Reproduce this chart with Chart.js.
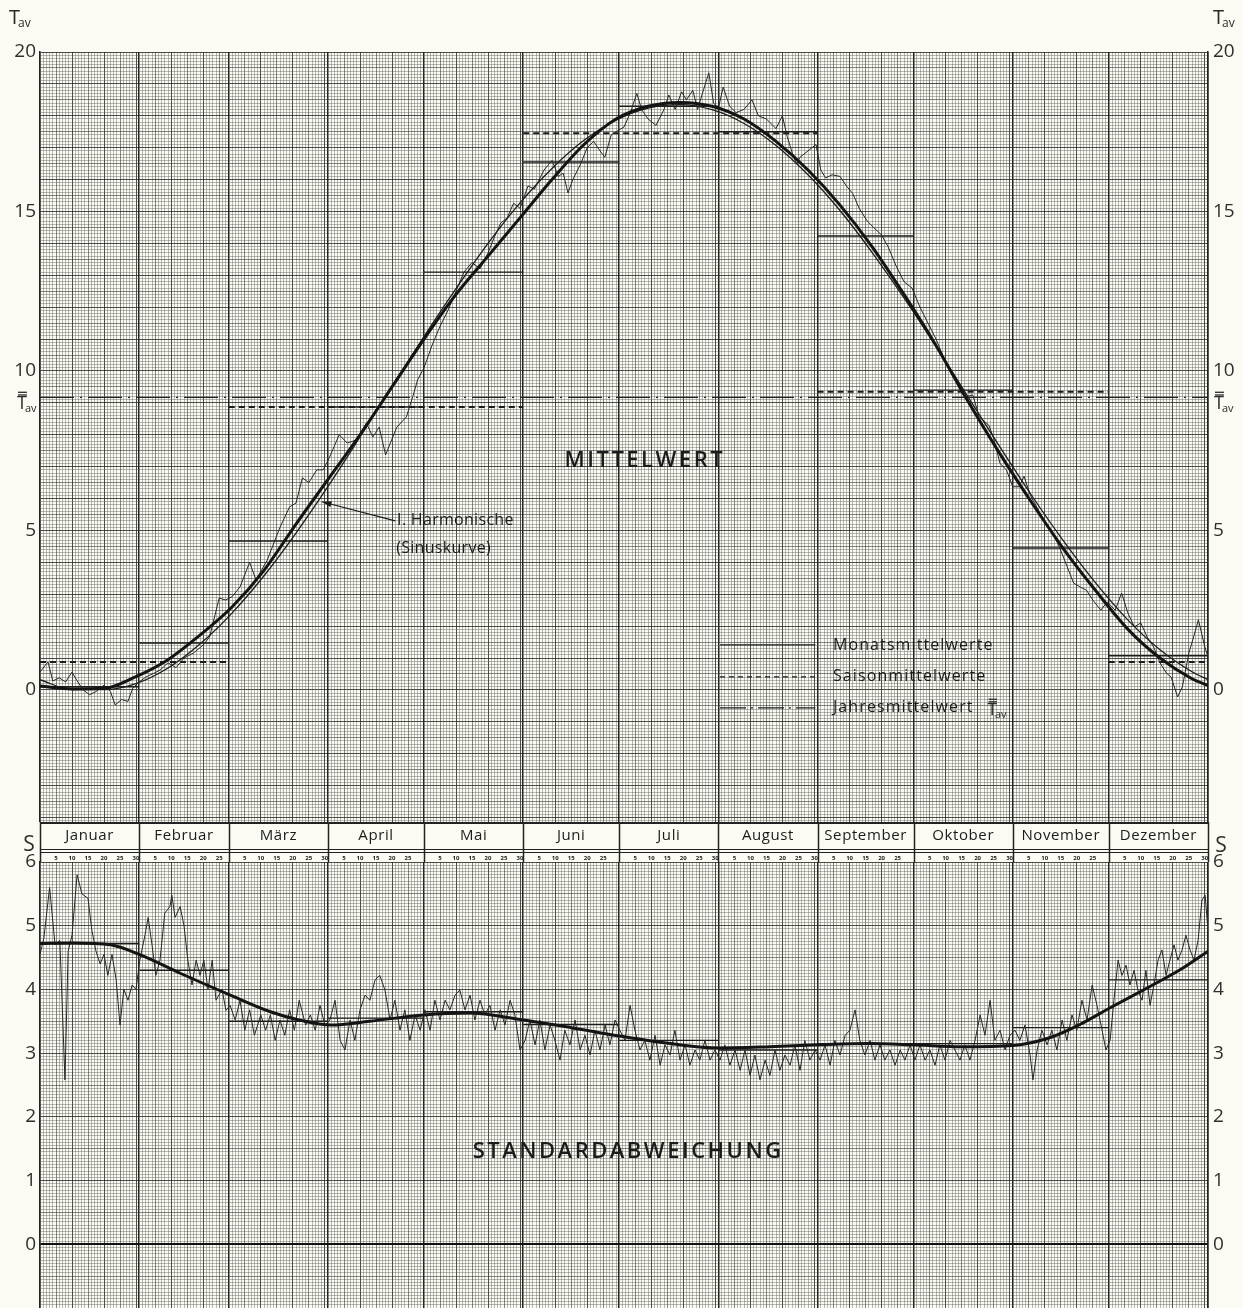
<!DOCTYPE html>
<html>
<head>
<meta charset="utf-8">
<script src="https://cdn.jsdelivr.net/npm/chart.js@4.4.0/dist/chart.umd.min.js"></script>
<style>
  html, body { margin: 0; padding: 0; background: #fbfbf3; }
  #wrap { position: relative; width: 1243px; height: 1308px; overflow: hidden; }
  canvas { position: absolute; left: 0; }
  #tempChart { top: 0; }
  #sdChart { top: 822px; }
</style>
</head>
<body>
<div id="wrap">
  <canvas id="tempChart" width="1243" height="822"></canvas>
  <canvas id="sdChart" width="1243" height="486"></canvas>
</div>
<script>
// Calendar (day of year)
const monthStarts = [0, 31, 59, 90, 120, 151, 181, 212, 243, 273, 304, 334, 365];
const monthNames = ['Januar', 'Februar', 'März', 'April', 'Mai', 'Juni', 'Juli', 'August', 'September', 'Oktober', 'November', 'Dezember'];

// Tick labels
const tempTicks = [0, 5, 10, 15, 20];
const sdTicks = [0, 1, 2, 3, 4, 5, 6];

// Mittelwert - daily values
const meanDays = [
  0, 2.5, 4, 6, 8, 10, 11.5, 13.5, 15.5, 17.5, 20, 22, 23.5, 25.5, 27.5, 29,
  31, 33, 35.5, 37.5, 40, 42.5, 45, 48, 51, 53, 56, 58,
  60, 62.5, 65.5, 67.5, 71, 75, 78, 80, 82, 84, 86.5, 88.5,
  90.5, 93.5, 96, 99, 102, 104, 106, 108, 111.5, 114.5, 116.5, 118,
  120, 122.5, 125, 127.5, 130, 132.5, 135, 137.5, 140, 142, 144, 146, 148, 150,
  152.5, 154.5, 157.5, 160, 162, 163.5, 165, 166.5, 169, 171, 173, 175, 176.5, 178.5, 180,
  182.5, 184.5, 186.5, 188, 190, 192.5, 195, 196.5, 198.5, 200.5, 202, 204, 205.5, 207, 209, 210.5,
  212, 213.5, 215.5, 217.5, 220, 222.5, 224.5, 227, 228, 230, 232, 233.5, 235.5, 236.5, 237.5, 240, 242.5,
  244, 245.5, 247.5, 250, 252, 254, 256, 258.5, 260.5, 263, 265, 267.5, 270, 272.5,
  275, 277.5, 280, 282.5, 285, 287.5, 289.5, 291.5, 293.5, 296.5, 298, 300, 302,
  304, 306, 307.5, 309.5, 312, 314, 316.5, 318.5, 321, 323, 325, 327, 329, 331.5, 333.5,
  336, 338, 340, 342, 344, 346, 348, 350, 352, 353.5, 355.5, 357, 359, 360.5, 362, 364, 365
];
const meanVals = [
  0.56, 0.88, 0.28, 0.38, 0.25, 0.56, 0.3, 0.0, -0.15, -0.05, 0.15, -0.05, -0.47, -0.3, -0.36, 0.06,
  0.25, 0.4, 0.52, 0.62, 0.85, 0.7, 1.0, 1.16, 1.41, 1.66, 2.88, 2.82,
  2.92, 3.23, 4.0, 3.45, 4.07, 5.1, 5.74, 5.86, 6.65, 6.5, 6.9, 6.9,
  7.3, 8.0, 7.74, 7.84, 8.37, 7.93, 8.24, 7.37, 8.24, 8.56, 9.2, 9.72,
  10.1, 10.8, 11.4, 11.9, 12.5, 13.1, 13.4, 13.2, 13.7, 14.2, 14.64, 14.8, 15.26, 15.1,
  15.8, 15.7, 16.3, 16.6, 16.1, 16.2, 15.58, 16.0, 16.5, 17.0, 17.2, 16.9, 16.7, 17.4, 17.5,
  17.65, 18.1, 18.7, 18.2, 17.9, 17.7, 18.2, 18.65, 18.2, 18.75, 18.5, 18.8, 18.2, 18.7, 19.35, 18.4,
  18.24, 18.9, 18.3, 18.1, 18.2, 18.5, 18.0, 17.9, 17.8, 17.6, 18.0, 17.35, 16.7, 16.5, 16.7, 16.9, 17.1,
  16.3, 16.05, 16.15, 16.1, 15.8, 15.56, 15.1, 14.7, 14.5, 14.26, 13.9, 13.3, 12.8, 12.6,
  12.0, 11.5, 11.0, 10.4, 9.9, 9.45, 9.2, 9.25, 8.56, 8.3, 7.9, 7.1, 6.9,
  6.37, 6.37, 6.7, 6.1, 5.64, 5.27, 4.9, 4.5, 3.86, 3.35, 3.23, 3.13, 2.82, 2.5, 2.76,
  2.5, 3.04, 2.4, 1.98, 2.1, 1.66, 1.35, 0.85, 0.53, 0.4, -0.22, 0.1, 1.15, 1.66, 2.2, 1.35, 1.03
];

// Mittelwert - smoothed curve (bold) and 1. Harmonische (thin)
const curveDays = [0, 10, 20, 30, 40, 50, 60, 70, 80, 90, 100, 110, 120, 130, 140, 150, 160, 170, 180,
  190, 200, 210, 220, 230, 240, 250, 260, 270, 280, 290, 300, 310, 320, 330, 340, 350, 360, 365];
const smoothVals = [0.12, 0.03, 0.05, 0.42, 0.95, 1.72, 2.6, 3.75, 5.2, 6.6, 8.0, 9.5, 11.0, 12.4, 13.6, 14.8, 16.0, 17.1, 17.9,
  18.3, 18.42, 18.3, 17.9, 17.2, 16.3, 15.2, 13.9, 12.4, 10.8, 9.05, 7.4, 5.86, 4.4, 3.1, 1.9, 1.0, 0.35, 0.14];
const sineVals = [0.32, 0.01, 0.01, 0.2, 0.69, 1.44, 2.41, 3.58, 4.92, 6.38, 7.93, 9.51, 11.08, 12.58, 14.0, 15.27, 16.35, 17.23, 17.86,
  18.24, 18.35, 18.19, 17.76, 17.07, 16.15, 15.03, 13.72, 12.29, 10.77, 9.19, 7.61, 6.08, 4.65, 3.34, 2.19, 1.26, 0.57, 0.32];

const monthMeans = [0.1, 1.47, 4.67, 8.87, 13.1, 16.55, 18.3, 17.5, 14.23, 9.4, 4.45, 1.07];
const seasonMeans = [0.88, 8.87, 17.45, 9.35]; // DJF, MAM, JJA, SON
const annualMean = 9.17;

// Standardabweichung - daily values
const sdDays = [
  0, 1.2, 3, 4.7, 6.2, 7.8, 8.8, 10, 11.6, 13.1, 15, 16.2, 17.5, 18.8, 20, 21.2, 22.5, 23.8, 25, 26.2, 27.5, 28.8, 30,
  31.2, 32.8, 33.8, 35, 36.2, 37.5, 39, 40.6, 41.2, 42.2, 43.8, 45, 46.2, 47.5, 48.8, 50, 51.2, 52.5, 53.8, 55, 56.9, 58.1, 59.4,
  61, 62.5, 64, 65.5, 67, 69, 70.5, 72, 73.5, 75, 76.5, 78, 79.5, 81, 83, 84.5, 86, 87.5, 89,
  90.6, 92.2, 93.8, 95.3, 96.9, 98.4, 100, 101.6, 103.1, 104.7, 106.2, 107.8, 109.4, 110.9, 112.5, 114, 115.6, 117.2, 118.8,
  120.3, 121.9, 123.4, 125, 126.6, 128.1, 129.7, 131.2, 132.8, 134.4, 135.9, 137.5, 139, 140.6, 142.2, 143.8, 145.3, 146.9, 148.4, 150,
  151.6, 153.1, 154.7, 156.2, 157.8, 159.4, 160.9, 162.5, 164, 165.6, 167.2, 168.8, 170.3, 171.9, 173.4, 175, 176.6, 178.1, 179.7,
  181.2, 182.8, 184.4, 185.9, 187.5, 189, 190.6, 192.2, 193.8, 195.3, 196.9, 198.4, 200, 201.6, 203.1, 204.7, 206.2, 207.8, 209.4, 210.9,
  212.5, 214, 215.6, 217.2, 218.8, 220.3, 221.9, 223.4, 225, 226.6, 228.1, 229.7, 231.2, 232.8, 234.4, 235.9, 237.5, 239, 240.6, 242.2,
  243.8, 245.3, 246.9, 248.4, 250, 251.6, 253.1, 254.7, 256.2, 257.8, 259.4, 260.9, 262.5, 264, 265.6, 267.2, 268.8, 270.3, 271.9,
  273.4, 275, 276.6, 278.1, 279.7, 281.2, 282.8, 284.4, 285.9, 287.5, 289, 290.6, 292.2, 293.8, 295.3, 296.9, 298.4, 300, 301.6, 303.1,
  304.7, 306.2, 307.8, 309.4, 310.3, 311.6, 313.1, 314.7, 316.2, 317.8, 319.4, 320.9, 322.5, 324, 325.6, 327.2, 328.8, 330.3, 331.9, 333.1,
  334.4, 335.6, 336.9, 338.1, 339.4, 340.6, 341.9, 343.1, 344.4, 345.6, 346.9, 348.1, 349.4, 350.6, 351.9, 353.1, 354.4, 355.6,
  356.9, 358.1, 359.4, 360.6, 361.9, 363.1, 364.1, 365
];
const sdVals = [
  4.55, 4.8, 5.6, 4.7, 4.77, 2.58, 4.6, 4.85, 5.8, 5.5, 5.43, 4.93, 4.6, 4.4, 4.55, 4.22, 4.55, 4.15, 3.44, 4.0, 3.83, 4.07, 4.0,
  4.46, 4.85, 5.13, 4.7, 4.22, 4.46, 5.2, 5.3, 5.48, 5.13, 5.3, 5.0, 4.46, 4.07, 4.46, 4.22, 4.46, 4.0, 4.46, 3.83, 4.0, 3.67, 3.75,
  3.52, 3.83, 3.36, 3.68, 3.28, 3.6, 3.36, 3.6, 3.2, 3.52, 3.28, 3.68, 3.36, 3.83, 3.44, 3.6, 3.36, 3.75, 3.44,
  3.52, 3.83, 3.2, 3.05, 3.52, 3.2, 3.68, 3.91, 3.83, 4.15, 4.22, 3.99, 3.52, 3.83, 3.36, 3.68, 3.2, 3.6, 3.36,
  3.68, 3.36, 3.83, 3.52, 3.83, 3.68, 3.91, 3.99, 3.68, 3.91, 3.52, 3.83, 3.6, 3.75, 3.36, 3.68, 3.44, 3.83, 3.6, 3.05,
  3.2, 3.52, 3.13, 3.52, 3.05, 3.44, 3.2, 2.89, 3.36, 3.13, 3.52, 3.05, 3.28, 2.97, 3.36, 3.05, 3.44, 3.13, 3.52,
  3.36, 3.2, 3.75, 3.36, 3.05, 3.2, 2.89, 3.28, 2.81, 3.13, 2.97, 3.36, 2.89, 3.13, 2.81, 3.05, 2.89, 3.2, 2.89, 3.05,
  2.89, 3.13, 2.81, 3.05, 2.73, 3.05, 2.65, 2.97, 2.58, 2.89, 2.65, 3.05, 2.73, 2.97, 2.81, 3.13, 2.73, 3.2, 2.89, 3.05,
  2.89, 3.13, 2.81, 3.2, 2.97, 3.28, 3.36, 3.68, 3.2, 2.97, 3.2, 2.89, 3.13, 2.89, 3.05, 2.81, 3.05, 2.89, 3.13,
  2.89, 3.13, 2.89, 3.05, 2.81, 3.13, 2.89, 3.2, 3.05, 2.89, 3.13, 2.89, 3.2, 3.6, 3.28, 3.83, 3.2, 3.36, 3.05, 3.28,
  3.36, 3.2, 3.44, 2.97, 2.58, 3.05, 3.36, 3.13, 3.36, 3.05, 3.52, 3.2, 3.6, 3.36, 3.83, 3.52, 4.07, 3.75, 3.36, 3.05,
  3.2, 3.83, 4.46, 4.22, 4.38, 4.07, 4.3, 3.99, 3.83, 4.3, 3.75, 4.07, 4.46, 4.62, 4.22, 4.46, 4.7, 4.46,
  4.62, 4.85, 4.62, 4.46, 4.77, 5.4, 5.48, 4.93
];

// Standardabweichung - smoothed curve
const sdCurveDays = [0, 10, 22, 31, 44, 60, 72, 81, 91, 103, 120, 134, 151, 166, 181, 197, 212, 228, 243, 259, 273, 288, 304, 316, 325, 334, 347, 356, 365];
const sdCurveVals = [4.72, 4.73, 4.7, 4.55, 4.25, 3.9, 3.65, 3.52, 3.44, 3.5, 3.6, 3.63, 3.52, 3.4, 3.27, 3.15, 3.08, 3.1, 3.13, 3.15, 3.13, 3.1, 3.12, 3.25, 3.45, 3.7, 4.05, 4.3, 4.6];
const sdMonthMeans = [4.72, 4.3, 3.5, 3.55, 3.65, 3.45, 3.2, 3.05, 3.15, 3.15, 3.4, 4.15];

// Helpers
const INK = '#222';
const FONT = '"Open Sans", "DejaVu Sans", sans-serif';

function pts(days, vals) {
  return days.map((d, i) => ({ x: d, y: vals[i] }));
}

// horizontal pieces separated by gaps
function segs(spans) {
  const out = [];
  spans.forEach(([a, b, v]) => {
    out.push({ x: a, y: v }, { x: b, y: v }, { x: b, y: null });
  });
  return out;
}

const monthSpans = monthMeans.map((v, i) => [monthStarts[i], monthStarts[i + 1], v]);
const sdMonthSpans = sdMonthMeans.map((v, i) => [monthStarts[i], monthStarts[i + 1], v]);
const seasonSpans = [
  [0, 59, seasonMeans[0]], [334, 365, seasonMeans[0]],
  [59, 151, seasonMeans[1]], [151, 243, seasonMeans[2]], [243, 334, seasonMeans[3]]
];

// Graph paper grid
const FINE = 'rgba(70,70,70,0.36)';
const MID = 'rgba(50,50,50,0.58)';
const HEAVY = 'rgba(35,35,35,0.8)';

function xGrid(v) {
  if (monthStarts.includes(v)) return [INK, 1.5];
  let m = 0;
  while (monthStarts[m + 1] <= v) m++;
  const d = v - monthStarts[m];
  if (d % 10 === 0) return [HEAVY, 1];
  if (d % 5 === 0) return [MID, 1];
  return [FINE, 1];
}
function yGrid(v, per) {
  const i = Math.round(v * per);
  if (i % per === 0) return HEAVY;
  if (i % (per / 2) === 0) return MID;
  return FINE;
}

function xScale() {
  return {
    type: 'linear', min: 0, max: 365,
    afterBuildTicks: s => { s.ticks = Array.from({ length: 366 }, (_, i) => ({ value: i })); },
    afterFit: s => { s.height = 0; s.paddingLeft = 0; s.paddingRight = 0; },
    ticks: { display: false },
    grid: {
      drawTicks: false,
      color: c => xGrid(c.tick ? c.tick.value : 0)[0],
      lineWidth: c => xGrid(c.tick ? c.tick.value : 0)[1]
    },
    border: { display: false }
  };
}

function yScale(min, max, per, labels, zeroBold) {
  return {
    type: 'linear', min: min, max: max, position: 'left',
    afterBuildTicks: s => {
      const t = [];
      for (let i = Math.ceil(min * per); i <= Math.floor(max * per + 0.001); i++) t.push({ value: i / per });
      s.ticks = t;
    },
    afterFit: s => { s.width = 40; s.paddingTop = 0; s.paddingBottom = 0; },
    ticks: {
      autoSkip: false, padding: 4, color: '#2e2e2e',
      font: { family: FONT, size: 19 },
      callback: v => labels.includes(v) ? String(v) : ''
    },
    grid: {
      drawTicks: false,
      color: c => {
        const v = c.tick ? c.tick.value : 0;
        if (zeroBold && v === 0) return '#111';
        return yGrid(v, per);
      },
      lineWidth: c => (zeroBold && c.tick && c.tick.value === 0) ? 2 : 1
    },
    border: { display: true, color: INK, width: 1.5 }
  };
}

function yRight(min, max, labels) {
  return {
    type: 'linear', min: min, max: max, position: 'right',
    afterBuildTicks: s => { s.ticks = labels.map(v => ({ value: v })); },
    afterFit: s => { s.width = 35; s.paddingTop = 0; s.paddingBottom = 0; },
    ticks: { autoSkip: false, padding: 5, color: '#2e2e2e', font: { family: FONT, size: 19 } },
    grid: { drawOnChartArea: false, drawTicks: false },
    border: { display: true, color: INK, width: 1.5 }
  };
}

function drawTav(ctx, x, y, bars, size) {
  size = size || 20;
  ctx.fillStyle = '#2a2a2a';
  ctx.strokeStyle = '#2a2a2a';
  ctx.textAlign = 'left';
  ctx.textBaseline = 'middle';
  ctx.font = size + 'px ' + FONT;
  ctx.fillText('T', x, y);
  const w = ctx.measureText('T').width;
  ctx.font = Math.round(size * 0.62) + 'px ' + FONT;
  ctx.fillText('av', x + w - 2, y + size * 0.3);
  if (bars) {
    ctx.lineWidth = 1.3;
    [-0.62, -0.47].forEach(k => {
      ctx.beginPath(); ctx.moveTo(x + 1, y + size * k); ctx.lineTo(x + w, y + size * k); ctx.stroke();
    });
  }
}

// Texts, arrow and legend of the upper chart
const tempDecor = {
  id: 'tempDecor',
  afterDraw(chart) {
    const { ctx, scales: { x, y } } = chart;
    ctx.save();
    drawTav(ctx, 9, 18, false);
    drawTav(ctx, 1213, 18, false);
    drawTav(ctx, 17, y.getPixelForValue(annualMean) + 6, true, 18);
    drawTav(ctx, 1214, y.getPixelForValue(annualMean) + 6, true, 18);

    ctx.fillStyle = '#1b1b1b';
    ctx.textAlign = 'center';
    ctx.textBaseline = 'middle';
    ctx.font = '600 22px ' + FONT;
    ctx.letterSpacing = '2.5px';
    ctx.fillText('MITTELWERT', x.getPixelForValue(189), y.getPixelForValue(7.18));
    ctx.letterSpacing = '0.3px';

    // I. Harmonische
    ctx.font = '16px ' + FONT;
    ctx.textAlign = 'left';
    ctx.fillText('I. Harmonische', x.getPixelForValue(111.6), y.getPixelForValue(5.3));
    ctx.fillText('(Sinuskurve)', x.getPixelForValue(111.3), y.getPixelForValue(4.45));
    const ax0 = x.getPixelForValue(111), ay0 = y.getPixelForValue(5.3);
    const ax1 = x.getPixelForValue(88.1), ay1 = y.getPixelForValue(5.9);
    ctx.strokeStyle = '#1b1b1b';
    ctx.lineWidth = 1.2;
    ctx.beginPath(); ctx.moveTo(ax0, ay0); ctx.lineTo(ax1, ay1); ctx.stroke();
    const ang = Math.atan2(ay1 - ay0, ax1 - ax0);
    ctx.beginPath();
    ctx.moveTo(ax1, ay1);
    ctx.lineTo(ax1 - 10 * Math.cos(ang - 0.3), ay1 - 10 * Math.sin(ang - 0.3));
    ctx.lineTo(ax1 - 10 * Math.cos(ang + 0.3), ay1 - 10 * Math.sin(ang + 0.3));
    ctx.closePath(); ctx.fill();

    // legend
    const lx0 = x.getPixelForValue(212.5), lx1 = x.getPixelForValue(242.3), tx = x.getPixelForValue(247.8);
    const rows = [
      [1.41, [], 1.3, 'Monatsmittelwerte'],
      [0.41, [5, 4], 1.3, 'Saisonmittelwerte'],
      [-0.56, [26, 5, 2, 5], 1.2, 'Jahresmittelwert']
    ];
    ctx.font = '16px ' + FONT;
    ctx.letterSpacing = '1.1px';
    rows.forEach(([v, dash, lw, label]) => {
      const py = y.getPixelForValue(v);
      ctx.setLineDash(dash);
      ctx.lineWidth = lw;
      ctx.beginPath(); ctx.moveTo(lx0, py); ctx.lineTo(lx1, py); ctx.stroke();
      ctx.setLineDash([]);
      ctx.fillText(label, tx, py);
    });
    const jw = ctx.measureText('Jahresmittelwert').width;
    ctx.letterSpacing = '0px';
    drawTav(ctx, tx + jw + 14, y.getPixelForValue(-0.56) + 2, true, 17);
    ctx.restore();
  }
};

// Month header and texts of the lower chart
const sdDecor = {
  id: 'sdDecor',
  afterDraw(chart) {
    const { ctx, chartArea, scales: { x, y } } = chart;
    const left = x.getPixelForValue(0), right = x.getPixelForValue(365);
    ctx.save();
    ctx.fillStyle = '#fbfbf3';
    ctx.fillRect(left, 0, right - left, chartArea.top);
    ctx.strokeStyle = INK;
    ctx.lineWidth = 2;
    ctx.beginPath(); ctx.moveTo(left, 1); ctx.lineTo(right, 1); ctx.stroke();
    ctx.lineWidth = 1;
    [27.5, 30.5].forEach(py => {
      ctx.beginPath(); ctx.moveTo(left, py); ctx.lineTo(right, py); ctx.stroke();
    });
    ctx.lineWidth = 1.5;
    monthStarts.forEach(d => {
      const px = Math.round(x.getPixelForValue(d)) + 0.5;
      ctx.beginPath(); ctx.moveTo(px, 0); ctx.lineTo(px, chartArea.top); ctx.stroke();
    });
    ctx.fillStyle = '#1b1b1b';
    ctx.textAlign = 'center';
    ctx.textBaseline = 'middle';
    monthNames.forEach((name, i) => {
      const mid = (monthStarts[i] + monthStarts[i + 1]) / 2;
      ctx.font = '15px ' + FONT;
      ctx.letterSpacing = '0.6px';
      ctx.fillText(name, x.getPixelForValue(mid), 14);
      ctx.letterSpacing = '0px';
      ctx.font = 'bold 6px ' + FONT;
      const len = monthStarts[i + 1] - monthStarts[i];
      for (let d = 5; d <= 30; d += 5) {
        if (d < len) ctx.fillText(String(d), x.getPixelForValue(monthStarts[i] + d), 36);
      }
    });

    ctx.font = '21px ' + FONT;
    ctx.fillStyle = '#2e2e2e';
    ctx.fillText('S', 29, 23);
    ctx.fillText('S', 1221, 24);

    ctx.fillStyle = '#1b1b1b';
    ctx.font = '600 22px ' + FONT;
    ctx.letterSpacing = '2.5px';
    ctx.fillText('STANDARDABWEICHUNG', x.getPixelForValue(183.8), y.getPixelForValue(1.46));
    ctx.restore();
  }
};

const common = {
  responsive: false,
  animation: false,
  events: [],
  plugins: { legend: { display: false }, tooltip: { enabled: false } },
  elements: { point: { radius: 0 } }
};

// Mittelwert chart
new Chart(document.getElementById('tempChart').getContext('2d'), {
  type: 'line',
  data: {
    datasets: [
      { data: pts(curveDays, smoothVals), borderColor: '#141414', borderWidth: 3, cubicInterpolationMode: 'monotone' },
      { data: pts(curveDays, sineVals), borderColor: '#1e1e1e', borderWidth: 1.3, cubicInterpolationMode: 'monotone' },
      { data: pts(meanDays, meanVals), borderColor: '#262626', borderWidth: 1, tension: 0 },
      { data: segs(monthSpans), borderColor: '#1b1b1b', borderWidth: 1.4, spanGaps: false },
      { data: segs(seasonSpans), borderColor: '#1b1b1b', borderWidth: 2, borderDash: [6, 4], spanGaps: false },
      { data: [{ x: 0, y: annualMean }, { x: 365, y: annualMean }], borderColor: '#222', borderWidth: 1.2, borderDash: [34, 6, 2, 6] }
    ]
  },
  options: {
    ...common,
    layout: { padding: { top: 52, bottom: 0, left: 0, right: 0 } },
    scales: {
      x: xScale(),
      y: yScale(-4.14, 20, 10, tempTicks, false),
      y2: yRight(-4.14, 20, tempTicks)
    }
  },
  plugins: [tempDecor]
});

// Standardabweichung chart
new Chart(document.getElementById('sdChart').getContext('2d'), {
  type: 'line',
  data: {
    datasets: [
      { data: pts(sdCurveDays, sdCurveVals), borderColor: '#141414', borderWidth: 3, cubicInterpolationMode: 'monotone' },
      { data: pts(sdDays, sdVals), borderColor: '#262626', borderWidth: 1, tension: 0 },
      { data: segs(sdMonthSpans), borderColor: '#1b1b1b', borderWidth: 1.4, spanGaps: false }
    ]
  },
  options: {
    ...common,
    layout: { padding: { top: 40, bottom: 0, left: 0, right: 0 } },
    scales: {
      x: xScale(),
      y: yScale(-1.0, 6, 20, sdTicks, true),
      y2: yRight(-1.0, 6, sdTicks)
    }
  },
  plugins: [sdDecor]
});
</script>
</body>
</html>
